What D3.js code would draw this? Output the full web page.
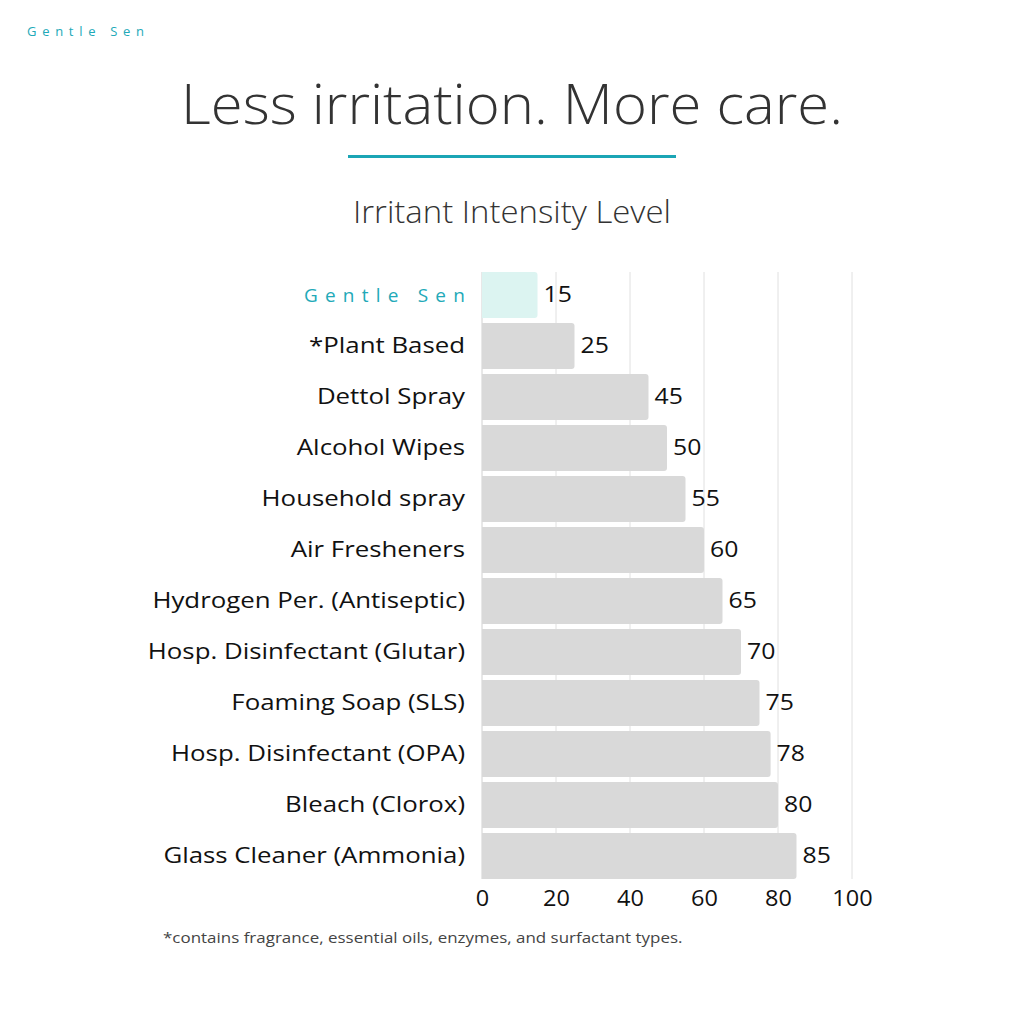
<!DOCTYPE html>
<html><head><meta charset="utf-8">
<script src="https://cdn.jsdelivr.net/npm/d3@7"></script>
<style>body{margin:0;background:#fff}svg{display:block}</style>
</head><body>
<svg id="c" width="1024" height="1024"></svg>
<script>
const categories = ["Gentle Sen","*Plant Based","Dettol Spray","Alcohol Wipes","Household spray","Air Fresheners","Hydrogen Per. (Antiseptic)","Hosp. Disinfectant (Glutar)","Foaming Soap (SLS)","Hosp. Disinfectant (OPA)","Bleach (Clorox)","Glass Cleaner (Ammonia)"];
const values = [15,25,45,50,55,60,65,70,75,78,80,85];
const xTicks = [0,20,40,60,80,100];

const FONT = "'Open Sans', Lato, 'Noto Sans', sans-serif";
const svg = d3.select("#c").style("font-family", FONT);

// brand mark
svg.append("text").attr("x",27).attr("y",36).attr("fill","#22a9b8")
  .attr("font-size",13).attr("letter-spacing",5.7).text("Gentle Sen");

// title
svg.append("text").attr("transform","translate(512,124) scale(1.036,1)").attr("text-anchor","middle")
  .attr("fill","#333").attr("font-size",56).attr("font-weight",300)
  .text("Less irritation. More care.");
svg.append("rect").attr("x",348).attr("y",155).attr("width",328).attr("height",3).attr("fill","#1ba5b5");
svg.append("text").attr("transform","translate(512,223) scale(1.045,1)").attr("text-anchor","middle")
  .attr("fill","#333").attr("font-size",31.5).attr("font-weight",300).text("Irritant Intensity Level");

const x = d3.scaleLinear().domain([0,100]).range([482,852]);
const y = d3.scaleBand().domain(categories).range([272,879]).paddingInner(0.1).paddingOuter(0);

// gridlines
const g = svg.append("g");
g.selectAll("line.grid").data(xTicks).join("line")
  .attr("x1",d=>x(d)).attr("x2",d=>x(d)).attr("y1",272).attr("y2",879)
  .attr("stroke",d=>d===0?"#d0d0d0":"#e0e0e0").attr("stroke-width",1);

// bars
g.selectAll("path.bar").data(categories).join("path")
  .attr("d",(d,i)=>{
    const x0=x(0), x1=x(values[i]), y0=y(d), h=y.bandwidth(), r=3;
    return `M${x0},${y0}H${x1-r}Q${x1},${y0} ${x1},${y0+r}V${y0+h-r}Q${x1},${y0+h} ${x1-r},${y0+h}H${x0}Z`;
  })
  .attr("fill",(d,i)=>i===0?"#dcf4f1":"#d9d9d9");

// value labels
g.selectAll("text.val").data(categories).join("text")
  .attr("transform",(d,i)=>`translate(${x(values[i])+6},${y(d)+y.bandwidth()/2}) scale(1.18,1)`)
  .attr("dy","0.35em").attr("font-size",21).attr("fill","#111")
  .text((d,i)=>values[i]);

// category labels
g.selectAll("text.cat").data(categories).join("text")
  .attr("transform",(d,i)=>i===0
      ? `translate(472,${y(d)+y.bandwidth()/2})`
      : `translate(465,${y(d)+y.bandwidth()/2}) scale(1.23,1)`)
  .attr("dy","0.35em").attr("text-anchor","end")
  .attr("font-size",(d,i)=>i===0?19:21)
  .attr("letter-spacing",(d,i)=>i===0?7.2:0)
  .attr("fill",(d,i)=>i===0?"#22a9b8":"#111")
  .text(d=>d);

// x axis
const ax = svg.append("g").attr("transform","translate(0,884)")
  .call(d3.axisBottom(x).tickValues(xTicks).tickSize(0).tickPadding(7));
ax.select(".domain").remove();
ax.selectAll(".tick text").attr("font-size",21).attr("fill","#111").style("font-family",FONT)
  .attr("transform","scale(1.12,1)")
  .attr("x",0);

// footnote
svg.append("text").attr("transform","translate(163,943) scale(1.13,1)").attr("fill","#444")
  .attr("font-size",15).text("*contains fragrance, essential oils, enzymes, and surfactant types.");
</script>
</body></html>
